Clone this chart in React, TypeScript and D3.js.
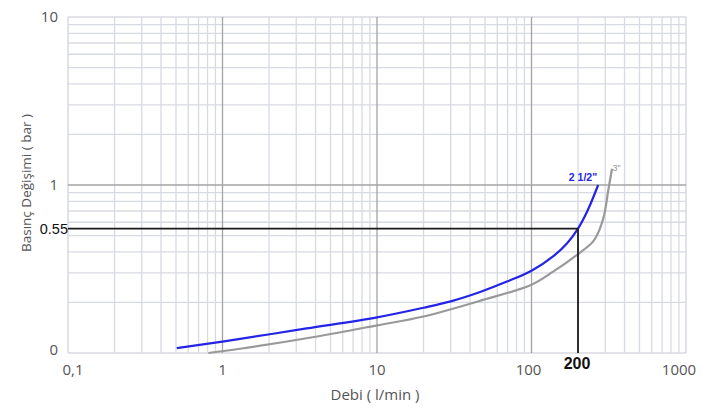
import React from "react";
import * as d3 from "d3";

const W = 717;
const H = 413;

const xTicks = [0.1, 1, 10, 100, 1000];
const xTickLabels = ["0,1", "1", "10", "100", "1000"];
const yTicks = [0.1, 1, 10];
const yTickLabels = ["0", "1", "10"];

// 2 1/2" curve (flow l/min, pressure bar)
const blueFlow = [0.506, 1.0, 3.5, 10, 20, 30, 46, 70, 100, 140, 170, 200, 230, 270];
const bluePress = [0.107, 0.117, 0.14, 0.163, 0.186, 0.203, 0.23, 0.267, 0.309, 0.38, 0.45, 0.55, 0.7, 1.0];

// 3" curve
const grayFlow = [0.81, 1.3, 4, 10, 20, 46, 100, 138, 196, 250, 275, 295, 314, 332];
const grayPress = [0.1, 0.106, 0.125, 0.146, 0.165, 0.204, 0.255, 0.305, 0.383, 0.46, 0.54, 0.66, 0.93, 1.25];

const refFlow = 200;
const refPress = 0.55;

export default function App() {
  const x = d3.scaleLog().domain([0.1, 1000]).range([68, 686]);
  const y = d3.scaleLog().domain([0.1, 10]).range([353, 17]);

  const minorX: number[] = [];
  for (let d = 0.1; d < 1000; d *= 10) {
    for (let k = 2; k <= 9; k++) minorX.push(+(d * k).toPrecision(3));
  }
  const minorY: number[] = [];
  for (let d = 0.1; d < 10; d *= 10) {
    for (let k = 2; k <= 9; k++) minorY.push(+(d * k).toPrecision(3));
  }

  const line = d3
    .line<[number, number]>()
    .x((d) => x(d[0]))
    .y((d) => y(d[1]))
    .curve(d3.curveCatmullRom.alpha(0.5));

  const blueData = blueFlow.map((f, i) => [f, bluePress[i]] as [number, number]);
  const grayData = grayFlow.map((f, i) => [f, grayPress[i]] as [number, number]);

  const minorColor = "#d7dae2";
  const majorColor = "#a3a3a3";
  const textColor = "#555";
  const font = "'Open Sans', sans-serif";

  const [x0, x1] = x.range();
  const [y0, y1] = y.range();

  const blueEnd = blueData[blueData.length - 1];
  const grayEnd = grayData[grayData.length - 1];

  return (
    <svg
      width={W}
      height={H}
      style={{ position: "absolute", left: 0, top: 0, background: "#fff" }}
      fontFamily={font}
    >
      {/* minor grid */}
      {minorX.map((v) => (
        <line key={"mx" + v} x1={x(v)} x2={x(v)} y1={y1} y2={y0} stroke={minorColor} strokeWidth={1.3} />
      ))}
      {minorY.map((v) => (
        <line key={"my" + v} x1={x0} x2={x1} y1={y(v)} y2={y(v)} stroke={minorColor} strokeWidth={1.3} />
      ))}
      {/* border lines */}
      <line x1={x0} x2={x0} y1={y1} y2={y0} stroke={minorColor} strokeWidth={1.5} />
      <line x1={x1} x2={x1} y1={y1} y2={y0} stroke={minorColor} strokeWidth={1.5} />
      <line x1={x0} x2={x1} y1={y1} y2={y1} stroke={minorColor} strokeWidth={1.5} />
      <line x1={x0} x2={x1} y1={y0} y2={y0} stroke={minorColor} strokeWidth={1.5} />
      {/* major grid */}
      {[1, 10, 100].map((v) => (
        <line key={"Mx" + v} x1={x(v)} x2={x(v)} y1={y1} y2={y0} stroke={majorColor} strokeWidth={1.3} />
      ))}
      <line x1={x0} x2={x1} y1={y(1)} y2={y(1)} stroke={majorColor} strokeWidth={1.3} />

      {/* curves */}
      <path d={line(grayData) || ""} fill="none" stroke="#999" strokeWidth={2.2} />
      <path d={line(blueData) || ""} fill="none" stroke="#2424e6" strokeWidth={2.2} />

      {/* reference lines */}
      <line x1={x0} x2={x(refFlow)} y1={y(refPress)} y2={y(refPress)} stroke="#1a1a1a" strokeWidth={1.6} />
      <line x1={x(refFlow)} x2={x(refFlow)} y1={y(refPress)} y2={y0} stroke="#1a1a1a" strokeWidth={1.8} />

      {/* series labels */}
      <text x={x(blueEnd[0]) - 1} y={y(blueEnd[1]) - 4} textAnchor="end" fontSize={10.5} fontWeight="bold" fill="#2424e6" fontFamily="'Liberation Sans', Arial, sans-serif">
        2 1/2"
      </text>
      <text x={x(grayEnd[0]) + 0.5} y={y(grayEnd[1]) + 2} fontSize={9} fill="#999" fontFamily="'Liberation Sans', Arial, sans-serif">
        3"
      </text>

      {/* y tick labels */}
      {yTicks.map((v, i) => (
        <text key={"yt" + v} x={58} y={y(v) + (i === 0 ? -3 : 0)} dy="0.35em" textAnchor="end" fontSize={15} fill={textColor}>
          {yTickLabels[i]}
        </text>
      ))}
      <text x={68} y={y(refPress)} dy="0.38em" textAnchor="end" fontSize={14.5} fill="#111" fontFamily="'Liberation Sans', Arial, sans-serif">
        0.55
      </text>

      {/* x tick labels */}
      {xTicks.map((v, i) => (
        <text key={"xt" + v} x={x(v) + (i === 0 ? 5 : i === 4 ? -7 : i === 3 ? -3 : 0)} y={370} dy="0.35em" textAnchor="middle" fontSize={15} fill={textColor}>
          {xTickLabels[i]}
        </text>
      ))}
      <text x={x(refFlow) - 1} y={363} dy="0.36em" textAnchor="middle" fontSize={16} fontWeight="bold" fill="#111" fontFamily="'Liberation Sans', Arial, sans-serif">
        200
      </text>

      {/* axis titles */}
      <text x={375} y={395} dy="0.35em" textAnchor="middle" fontSize={15} fill={textColor}>
        Debi ( l/min )
      </text>
      <text transform={`translate(26,183) rotate(-90)`} dy="0.35em" textAnchor="middle" fontSize={13.5} fill={textColor}>
        Basınç Değişimi ( bar )
      </text>
    </svg>
  );
}
